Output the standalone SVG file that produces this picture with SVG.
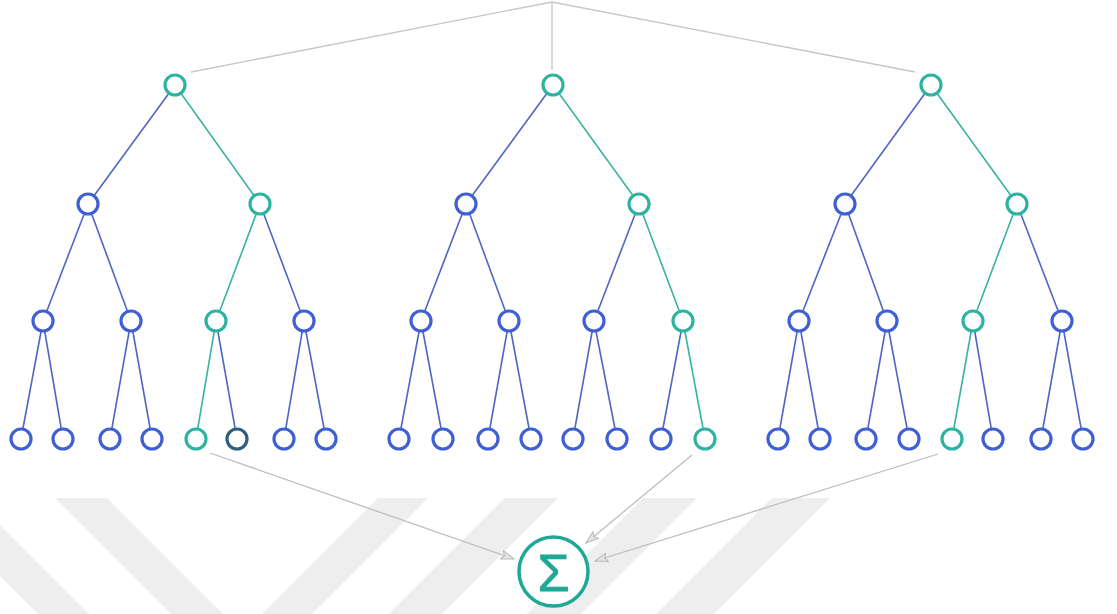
<svg xmlns="http://www.w3.org/2000/svg" width="1117" height="614" viewBox="0 0 1117 614">
<style>
.wm{fill:#eeeeee}
.top{stroke:#c6c6c6;stroke-width:1.3;fill:none}
.eb{stroke:#4f66c2;stroke-width:1.6;fill:none}
.et{stroke:#3ab3a1;stroke-width:1.6;fill:none}
.arr{stroke:#bdbdbd;stroke-width:1.3;fill:none;marker-end:url(#ah)}
.nb{fill:#fff;stroke:#3f5fd4;stroke-width:3.2}
.nd{fill:#fff;stroke:#2f5f80;stroke-width:3.2}
.nt{fill:#fff;stroke:#2db3a0;stroke-width:3.2}
.sig{fill:#fff;stroke:#1fa896;stroke-width:3.5}
.st{fill:#1fa896;stroke:#1fa896;stroke-width:0.8;font-family:"Liberation Sans",Arial,sans-serif;font-size:52px;text-anchor:middle}
</style>
<defs>
<marker id="ah" viewBox="0 0 14 10" refX="13" refY="5" markerWidth="14" markerHeight="10" markerUnits="userSpaceOnUse" orient="auto">
<path d="M0,0.5 L13,5 L0,9.5 L3,5 Z" fill="#e4e4e4" stroke="#b8b8b8" stroke-width="1"/>
</marker>
</defs>
<rect width="1117" height="614" fill="#fff"/>
<g id="watermark">
<polygon class="wm" points="55,498 107,498 223,614 171,614"/>
<polygon class="wm" points="0,525 0,576 38,614 89,614"/>
<polygon class="wm" points="378,498 428,498 312,614 262,614"/>
<polygon class="wm" points="505,498 558,498 442,614 389,614"/>
<polygon class="wm" points="643,498 697,498 581,614 527,614"/>
<polygon class="wm" points="772,498 830,498 714,614 656,614"/>
</g>
<g id="connectors">
<polyline class="top" points="191,72 552,2 915,72"/>
<line class="top" x1="552" y1="2" x2="552" y2="70"/>
<line class="eb" x1="175" y1="85" x2="88" y2="204"/>
<line class="et" x1="175" y1="85" x2="260" y2="204"/>
<line class="eb" x1="88" y1="204" x2="43" y2="321"/>
<line class="eb" x1="88" y1="204" x2="131" y2="321"/>
<line class="et" x1="260" y1="204" x2="216" y2="321"/>
<line class="eb" x1="260" y1="204" x2="304" y2="321"/>
<line class="eb" x1="43" y1="321" x2="21" y2="439"/>
<line class="eb" x1="43" y1="321" x2="63" y2="439"/>
<line class="eb" x1="131" y1="321" x2="110" y2="439"/>
<line class="eb" x1="131" y1="321" x2="152" y2="439"/>
<line class="et" x1="216" y1="321" x2="196" y2="439"/>
<line class="eb" x1="216" y1="321" x2="237" y2="439"/>
<line class="eb" x1="304" y1="321" x2="284" y2="439"/>
<line class="eb" x1="304" y1="321" x2="326" y2="439"/>
<line class="eb" x1="553" y1="85" x2="466" y2="204"/>
<line class="et" x1="553" y1="85" x2="639" y2="204"/>
<line class="eb" x1="466" y1="204" x2="421" y2="321"/>
<line class="eb" x1="466" y1="204" x2="509" y2="321"/>
<line class="eb" x1="639" y1="204" x2="594" y2="321"/>
<line class="et" x1="639" y1="204" x2="683" y2="321"/>
<line class="eb" x1="421" y1="321" x2="399" y2="439"/>
<line class="eb" x1="421" y1="321" x2="443" y2="439"/>
<line class="eb" x1="509" y1="321" x2="488" y2="439"/>
<line class="eb" x1="509" y1="321" x2="531" y2="439"/>
<line class="eb" x1="594" y1="321" x2="573" y2="439"/>
<line class="eb" x1="594" y1="321" x2="617" y2="439"/>
<line class="eb" x1="683" y1="321" x2="661" y2="439"/>
<line class="et" x1="683" y1="321" x2="705" y2="439"/>
<line class="eb" x1="931" y1="85" x2="845" y2="204"/>
<line class="et" x1="931" y1="85" x2="1017" y2="204"/>
<line class="eb" x1="845" y1="204" x2="799" y2="321"/>
<line class="eb" x1="845" y1="204" x2="887" y2="321"/>
<line class="et" x1="1017" y1="204" x2="973" y2="321"/>
<line class="eb" x1="1017" y1="204" x2="1062" y2="321"/>
<line class="eb" x1="799" y1="321" x2="778" y2="439"/>
<line class="eb" x1="799" y1="321" x2="820" y2="439"/>
<line class="eb" x1="887" y1="321" x2="866" y2="439"/>
<line class="eb" x1="887" y1="321" x2="909" y2="439"/>
<line class="et" x1="973" y1="321" x2="952" y2="439"/>
<line class="eb" x1="973" y1="321" x2="993" y2="439"/>
<line class="eb" x1="1062" y1="321" x2="1041" y2="439"/>
<line class="eb" x1="1062" y1="321" x2="1083" y2="439"/>
<line class="arr" x1="210" y1="453" x2="514" y2="559"/>
<line class="arr" x1="692" y1="455" x2="586" y2="543"/>
<line class="arr" x1="938" y1="454" x2="595" y2="561"/>
</g>
<g id="t1-root"><circle class="nt" cx="175" cy="85" r="10"/></g>
<g id="t1-a"><circle class="nb" cx="88" cy="204" r="10"/></g>
<g id="t1-b"><circle class="nt" cx="260" cy="204" r="10"/></g>
<g id="t1-aa"><circle class="nb" cx="43" cy="321" r="10"/></g>
<g id="t1-ab"><circle class="nb" cx="131" cy="321" r="10"/></g>
<g id="t1-ba"><circle class="nt" cx="216" cy="321" r="10"/></g>
<g id="t1-bb"><circle class="nb" cx="304" cy="321" r="10"/></g>
<g id="t1-l1"><circle class="nb" cx="21" cy="439" r="10"/></g>
<g id="t1-l2"><circle class="nb" cx="63" cy="439" r="10"/></g>
<g id="t1-l3"><circle class="nb" cx="110" cy="439" r="10"/></g>
<g id="t1-l4"><circle class="nb" cx="152" cy="439" r="10"/></g>
<g id="t1-l5"><circle class="nt" cx="196" cy="439" r="10"/></g>
<g id="t1-l6"><circle class="nd" cx="237" cy="439" r="10"/></g>
<g id="t1-l7"><circle class="nb" cx="284" cy="439" r="10"/></g>
<g id="t1-l8"><circle class="nb" cx="326" cy="439" r="10"/></g>
<g id="t2-root"><circle class="nt" cx="553" cy="85" r="10"/></g>
<g id="t2-a"><circle class="nb" cx="466" cy="204" r="10"/></g>
<g id="t2-b"><circle class="nt" cx="639" cy="204" r="10"/></g>
<g id="t2-aa"><circle class="nb" cx="421" cy="321" r="10"/></g>
<g id="t2-ab"><circle class="nb" cx="509" cy="321" r="10"/></g>
<g id="t2-ba"><circle class="nb" cx="594" cy="321" r="10"/></g>
<g id="t2-bb"><circle class="nt" cx="683" cy="321" r="10"/></g>
<g id="t2-l1"><circle class="nb" cx="399" cy="439" r="10"/></g>
<g id="t2-l2"><circle class="nb" cx="443" cy="439" r="10"/></g>
<g id="t2-l3"><circle class="nb" cx="488" cy="439" r="10"/></g>
<g id="t2-l4"><circle class="nb" cx="531" cy="439" r="10"/></g>
<g id="t2-l5"><circle class="nb" cx="573" cy="439" r="10"/></g>
<g id="t2-l6"><circle class="nb" cx="617" cy="439" r="10"/></g>
<g id="t2-l7"><circle class="nb" cx="661" cy="439" r="10"/></g>
<g id="t2-l8"><circle class="nt" cx="705" cy="439" r="10"/></g>
<g id="t3-root"><circle class="nt" cx="931" cy="85" r="10"/></g>
<g id="t3-a"><circle class="nb" cx="845" cy="204" r="10"/></g>
<g id="t3-b"><circle class="nt" cx="1017" cy="204" r="10"/></g>
<g id="t3-aa"><circle class="nb" cx="799" cy="321" r="10"/></g>
<g id="t3-ab"><circle class="nb" cx="887" cy="321" r="10"/></g>
<g id="t3-ba"><circle class="nt" cx="973" cy="321" r="10"/></g>
<g id="t3-bb"><circle class="nb" cx="1062" cy="321" r="10"/></g>
<g id="t3-l1"><circle class="nb" cx="778" cy="439" r="10"/></g>
<g id="t3-l2"><circle class="nb" cx="820" cy="439" r="10"/></g>
<g id="t3-l3"><circle class="nb" cx="866" cy="439" r="10"/></g>
<g id="t3-l4"><circle class="nb" cx="909" cy="439" r="10"/></g>
<g id="t3-l5"><circle class="nt" cx="952" cy="439" r="10"/></g>
<g id="t3-l6"><circle class="nb" cx="993" cy="439" r="10"/></g>
<g id="t3-l7"><circle class="nb" cx="1041" cy="439" r="10"/></g>
<g id="t3-l8"><circle class="nb" cx="1083" cy="439" r="10"/></g>
<g id="sum"><circle class="sig" cx="553.5" cy="571.5" r="34.5"/><text class="st" x="553.5" y="590.5">Σ</text></g>
</svg>
